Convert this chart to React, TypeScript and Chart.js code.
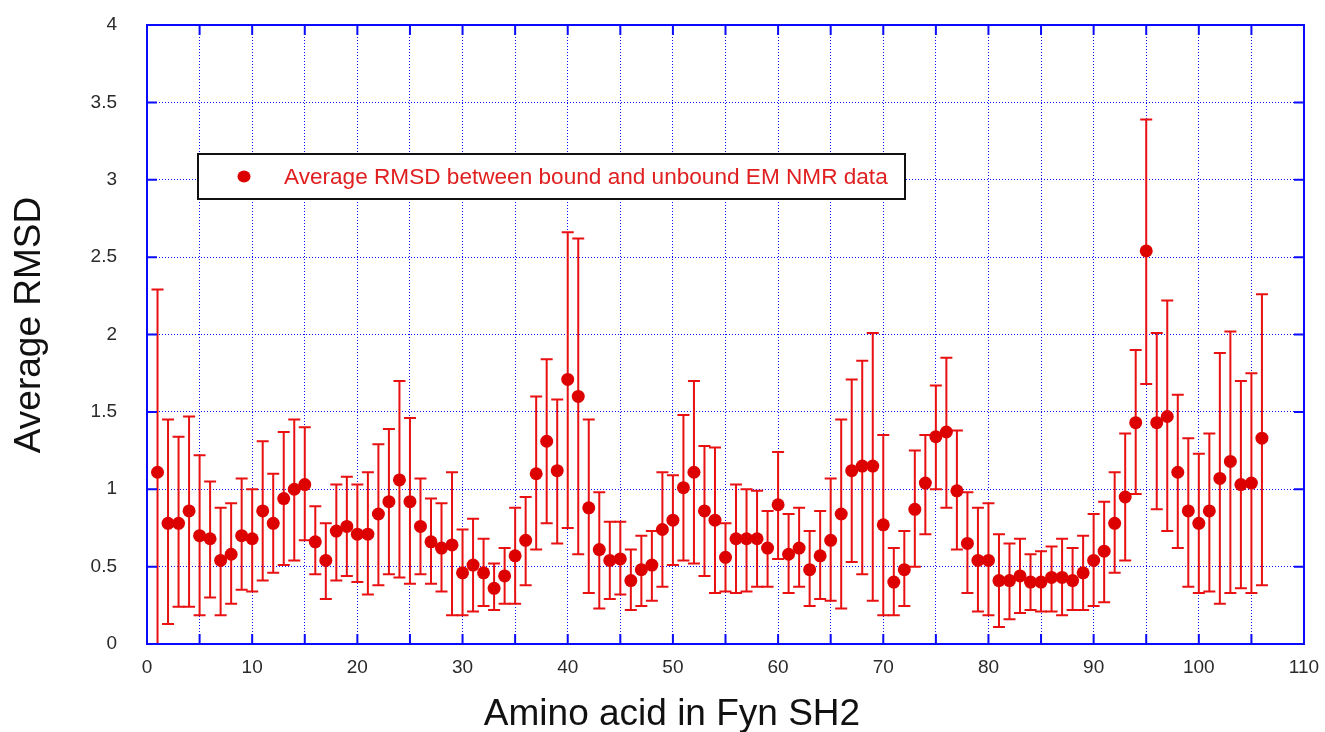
import React, { useEffect, useRef } from "react";
import { Chart, registerables } from "chart.js";

Chart.register(...registerables);

const residues: number[] = Array.from({ length: 106 }, (_, i) => i + 1);

const rmsdMean: number[] = [
  1.11, 0.78, 0.78, 0.86, 0.70, 0.68, 0.54, 0.58, 0.70, 0.68,
  0.86, 0.78, 0.94, 1.00, 1.03, 0.66, 0.54, 0.73, 0.76, 0.71,
  0.71, 0.84, 0.92, 1.06, 0.92, 0.76, 0.66, 0.62, 0.64, 0.46,
  0.51, 0.46, 0.36, 0.44, 0.57, 0.67, 1.10, 1.31, 1.12, 1.71,
  1.60, 0.88, 0.61, 0.54, 0.55, 0.41, 0.48, 0.51, 0.74, 0.80,
  1.01, 1.11, 0.86, 0.80, 0.56, 0.68, 0.68, 0.68, 0.62, 0.90,
  0.58, 0.62, 0.48, 0.57, 0.67, 0.84, 1.12, 1.15, 1.15, 0.77,
  0.40, 0.48, 0.87, 1.04, 1.34, 1.37, 0.99, 0.65, 0.54, 0.54,
  0.41, 0.41, 0.44, 0.40, 0.40, 0.43, 0.43, 0.41, 0.46, 0.54,
  0.60, 0.78, 0.95, 1.43, 2.54, 1.43, 1.47, 1.11, 0.86, 0.78,
  0.86, 1.07, 1.18, 1.03, 1.04, 1.33,
];

const rmsdUpper: number[] = [
  2.29, 1.45, 1.34, 1.47, 1.22, 1.05, 0.88, 0.91, 1.07, 1.00,
  1.31, 1.10, 1.37, 1.45, 1.40, 0.89, 0.78, 1.03, 1.08, 1.03,
  1.11, 1.29, 1.39, 1.70, 1.46, 1.07, 0.94, 0.91, 1.11, 0.74,
  0.81, 0.68, 0.52, 0.62, 0.88, 0.95, 1.60, 1.84, 1.58, 2.66,
  2.62, 1.45, 0.98, 0.79, 0.79, 0.61, 0.70, 0.73, 1.11, 1.09,
  1.48, 1.70, 1.28, 1.27, 0.78, 1.03, 1.00, 0.99, 0.86, 1.24,
  0.84, 0.88, 0.73, 0.86, 1.07, 1.45, 1.71, 1.83, 2.01, 1.35,
  0.62, 0.73, 1.25, 1.35, 1.67, 1.85, 1.38, 0.98, 0.88, 0.91,
  0.71, 0.65, 0.68, 0.58, 0.60, 0.63, 0.68, 0.62, 0.70, 0.84,
  0.92, 1.11, 1.36, 1.90, 3.39, 2.01, 2.22, 1.61, 1.33, 1.23,
  1.36, 1.88, 2.02, 1.70, 1.75, 2.26,
];

const rmsdLower: number[] = [
  0.0, 0.13, 0.24, 0.24, 0.185, 0.30, 0.185, 0.26, 0.35, 0.34,
  0.41, 0.46, 0.51, 0.54, 0.67, 0.45, 0.29, 0.41, 0.44, 0.40,
  0.32, 0.38, 0.45, 0.43, 0.39, 0.45, 0.39, 0.34, 0.185, 0.185,
  0.21, 0.245, 0.22, 0.26, 0.26, 0.38, 0.61, 0.78, 0.65, 0.75,
  0.58, 0.33, 0.23, 0.29, 0.32, 0.22, 0.245, 0.28, 0.37, 0.51,
  0.54, 0.52, 0.44, 0.33, 0.34, 0.33, 0.34, 0.37, 0.37, 0.55,
  0.33, 0.37, 0.245, 0.29, 0.28, 0.23, 0.53, 0.45, 0.28, 0.185,
  0.185, 0.245, 0.50, 0.71, 1.00, 0.88, 0.61, 0.33, 0.21, 0.185,
  0.11, 0.16, 0.20, 0.22, 0.21, 0.21, 0.185, 0.22, 0.22, 0.245,
  0.27, 0.46, 0.54, 0.97, 1.68, 0.87, 0.73, 0.62, 0.37, 0.33,
  0.34, 0.26, 0.33, 0.36, 0.33, 0.38,
];

const legendLabel = "Average RMSD between bound and unbound EM NMR data";
const xTitle = "Amino acid in Fyn SH2";
const yTitle = "Average RMSD";

const FONT = "'Liberation Sans', Arial, Helvetica, sans-serif";
const RED = "#dd0000";
const BLUE = "#0a0aff";

const errorBarPlugin = {
  id: "errorBars",
  beforeDatasetsDraw(chart: any) {
    const { ctx, chartArea, scales } = chart;
    const xs = scales.x;
    const ys = scales.y;
    ctx.save();
    ctx.beginPath();
    ctx.rect(chartArea.left, chartArea.top, chartArea.right - chartArea.left, chartArea.bottom - chartArea.top);
    ctx.clip();
    ctx.strokeStyle = "#e81010";
    ctx.lineWidth = 2;
    const cap = 6;
    residues.forEach((r, i) => {
      const x = xs.getPixelForValue(r);
      const yt = ys.getPixelForValue(rmsdUpper[i]);
      const yb = ys.getPixelForValue(rmsdLower[i]);
      ctx.beginPath();
      ctx.moveTo(x, yt);
      ctx.lineTo(x, yb);
      ctx.moveTo(x - cap, yt);
      ctx.lineTo(x + cap, yt);
      if (rmsdLower[i] > 0) {
        ctx.moveTo(x - cap, yb);
        ctx.lineTo(x + cap, yb);
      }
      ctx.stroke();
    });
    ctx.restore();
  },
};

const framePlugin = {
  id: "frameAndLegend",
  afterDraw(chart: any) {
    const { ctx, chartArea, scales } = chart;
    const { left, right, top, bottom } = chartArea;
    ctx.save();
    // inner ticks
    ctx.strokeStyle = BLUE;
    ctx.lineWidth = 2;
    const tl = 10;
    ctx.beginPath();
    scales.x.ticks.forEach((t: any) => {
      const x = scales.x.getPixelForValue(t.value);
      ctx.moveTo(x, bottom);
      ctx.lineTo(x, bottom - tl);
      ctx.moveTo(x, top);
      ctx.lineTo(x, top + tl);
    });
    scales.y.ticks.forEach((t: any) => {
      const y = scales.y.getPixelForValue(t.value);
      ctx.moveTo(left, y);
      ctx.lineTo(left + tl, y);
      ctx.moveTo(right, y);
      ctx.lineTo(right - tl, y);
    });
    ctx.stroke();
    // frame
    ctx.strokeRect(left, top, right - left, bottom - top);

    // legend box
    const bx = 198, by = 154, bw = 707, bh = 45;
    ctx.fillStyle = "#ffffff";
    ctx.fillRect(bx, by, bw, bh);
    ctx.strokeStyle = "#111111";
    ctx.lineWidth = 2;
    ctx.strokeRect(bx, by, bw, bh);
    ctx.fillStyle = RED;
    ctx.beginPath();
    ctx.ellipse(244, by + bh / 2, 6.5, 6, 0, 0, Math.PI * 2);
    ctx.fill();
    ctx.font = `22.6px ${FONT}`;
    ctx.textAlign = "left";
    ctx.textBaseline = "middle";
    ctx.fillStyle = "#e02020";
    ctx.fillText(legendLabel, 284, by + bh / 2 + 1);

    // axis titles
    ctx.font = `37px ${FONT}`;
    ctx.fillStyle = "#111111";
    ctx.textAlign = "center";
    ctx.textBaseline = "middle";
    ctx.fillText(xTitle, 672, 715);
    ctx.translate(30, 325);
    ctx.rotate(-Math.PI / 2);
    ctx.fillText(yTitle, 0, 0);
    ctx.restore();
  },
};

export default function App() {
  const canvasRef = useRef<HTMLCanvasElement | null>(null);

  useEffect(() => {
    if (!canvasRef.current) return;
    Chart.defaults.font.family = FONT;
    const chart = new Chart(canvasRef.current, {
      type: "scatter",
      data: {
        datasets: [
          {
            label: legendLabel,
            data: residues.map((r, i) => ({ x: r, y: rmsdMean[i] })),
            backgroundColor: RED,
            borderColor: RED,
            borderWidth: 0,
            pointRadius: 6.5,
            pointStyle: "circle",
          },
        ],
      },
      options: {
        animation: false,
        responsive: true,
        maintainAspectRatio: false,
        events: [],
        layout: { padding: { top: 25, right: 21, left: 0, bottom: 0 } },
        plugins: {
          legend: { display: false },
          tooltip: { enabled: false },
        },
        scales: {
          x: {
            type: "linear",
            min: 0,
            max: 110,
            afterFit: (s: any) => {
              s.height = 88;
              s.paddingLeft = 0;
              s.paddingRight = 0;
            },
            ticks: {
              stepSize: 5,
              autoSkip: false,
              maxRotation: 0,
              padding: 12,
              color: "#2a2a2a",
              font: { size: 19, family: FONT },
              callback: (v: any) => (Number(v) % 10 === 0 ? String(v) : ""),
            },
            grid: {
              color: BLUE,
              lineWidth: 1,
              drawTicks: false,
            },
            border: { display: false, dash: [1, 2] },
          },
          y: {
            min: 0,
            max: 4,
            afterFit: (s: any) => {
              s.width = 147;
              s.paddingTop = 0;
              s.paddingBottom = 0;
            },
            ticks: {
              stepSize: 0.5,
              padding: 30,
              color: "#2a2a2a",
              font: { size: 19, family: FONT },
              callback: (v: any) => String(Number(v)),
            },
            grid: {
              color: BLUE,
              lineWidth: 1,
              drawTicks: false,
            },
            border: { display: false, dash: [1, 2] },
          },
        },
      },
      plugins: [errorBarPlugin, framePlugin],
    });
    return () => chart.destroy();
  }, []);

  return (
    <div style={{ position: "absolute", left: 0, top: 0, width: 1325, height: 732, background: "#ffffff" }}>
      <canvas ref={canvasRef} />
    </div>
  );
}
